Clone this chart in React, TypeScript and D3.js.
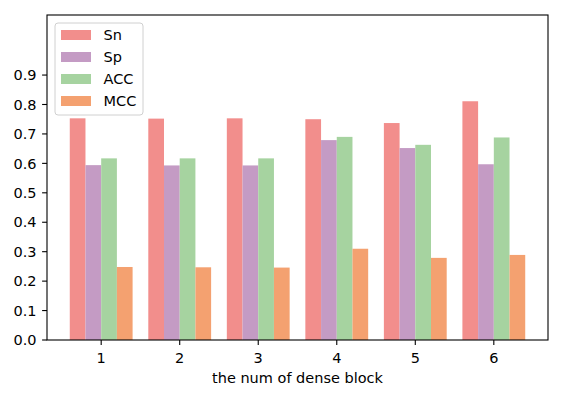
import React from "react";
import * as d3 from "d3";

const categories = ["1", "2", "3", "4", "5", "6"];
const seriesNames = ["Sn", "Sp", "ACC", "MCC"];
const snValues = [0.753, 0.752, 0.753, 0.750, 0.737, 0.811];
const spValues = [0.594, 0.593, 0.593, 0.679, 0.652, 0.597];
const accValues = [0.617, 0.617, 0.617, 0.690, 0.663, 0.688];
const mccValues = [0.248, 0.247, 0.246, 0.310, 0.279, 0.289];
const yTicks = [0, 0.1, 0.2, 0.3, 0.4, 0.5, 0.6, 0.7, 0.8, 0.9];
const colors = ["#f28e8c", "#c49bc4", "#a6d3a0", "#f4a170"];
const xLabel = "the num of dense block";

export default function App() {
  const W = 576, H = 394;
  const left = 47, right = 548, top = 15, bottom = 340;
  const series = [snValues, spValues, accValues, mccValues];
  const x = d3.scaleLinear().domain([0.31, 6.69]).range([left, right]);
  const y = d3.scaleLinear().domain([0, 1.104]).range([bottom, top]);
  const bw = 0.2;
  const font = "DejaVu Sans, sans-serif";
  const fs = 14.5;
  return (
    <svg width={W} height={H} style={{ position: "absolute", left: 0, top: 0 }}>
      <rect width={W} height={H} fill="#fff" />
      {series.map((vals, si) =>
        vals.map((v, ci) => {
          const x0 = x(ci + 1 - 0.4 + si * bw);
          const x1 = x(ci + 1 - 0.4 + (si + 1) * bw);
          return (
            <rect key={`${si}-${ci}`} x={x0} y={y(v)} width={x1 - x0} height={y(0) - y(v)} fill={colors[si]} />
          );
        })
      )}
      <rect x={left} y={top} width={right - left} height={bottom - top} fill="none" stroke="#000" strokeWidth={1.1} />
      {yTicks.map((t) => (
        <g key={t}>
          <line x1={left - 4.9} x2={left} y1={y(t)} y2={y(t)} stroke="#000" strokeWidth={1.1} />
          <text x={36.5} y={y(t)} dy="0.36em" textAnchor="end" fontFamily={font} fontSize={fs} fill="#000">
            {t.toFixed(1)}
          </text>
        </g>
      ))}
      {categories.map((c, i) => (
        <g key={c}>
          <line x1={x(i + 1)} x2={x(i + 1)} y1={bottom} y2={bottom + 4.9} stroke="#000" strokeWidth={1.1} />
          <text x={x(i + 1)} y={363.3} textAnchor="middle" fontFamily={font} fontSize={fs} fill="#000">
            {c}
          </text>
        </g>
      ))}
      <text x={(left + right) / 2} y={383} textAnchor="middle" fontFamily={font} fontSize={fs} fill="#000">
        {xLabel}
      </text>
      <rect x={55} y={23} width={88} height={92} rx={3} fill="#fff" fillOpacity={0.8} stroke="#d0d0d0" strokeWidth={1} />
      {seriesNames.map((n, i) => (
        <g key={n}>
          <rect x={61} y={30 + i * 22} width={30} height={10} fill={colors[i]} />
          <text x={103.5} y={35 + i * 22} dy="0.36em" fontFamily={font} fontSize={fs} fill="#000">
            {n}
          </text>
        </g>
      ))}
    </svg>
  );
}
